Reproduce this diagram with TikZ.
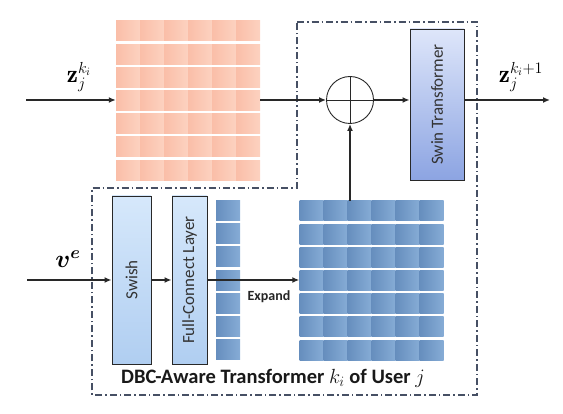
\RequirePackage{fix-cm}
\documentclass[tikz,border=0pt]{standalone}
\usepackage{fontspec}
\usepackage{bm}
\setsansfont{Carlito}
\usetikzlibrary{arrows.meta}

\definecolor{frameline}{RGB}{70,80,100}
\definecolor{arrowline}{RGB}{40,40,40}
\definecolor{zcellL}{RGB}{250,190,168}
\definecolor{zcellR}{RGB}{252,210,192}
\definecolor{vcellL}{RGB}{102,142,190}
\definecolor{vcellR}{RGB}{134,172,214}
\definecolor{layertop}{RGB}{214,232,251}
\definecolor{layerbot}{RGB}{176,206,241}
\definecolor{swintop}{RGB}{222,230,250}
\definecolor{swinbot}{RGB}{140,164,226}

% bigger indices for the input/output labels
\newcommand{\idx}[1]{\mbox{\fontsize{16}{16}\selectfont$#1$}}

\tikzset{
  layerbox/.style={draw=arrowline, line width=0.9pt, minimum width=#1, inner sep=0pt},
  layertext/.style={font=\sffamily\fontsize{17}{17}\selectfont, text=black!80, rotate=90},
  flow/.style={-{Latex[length=7pt,width=6pt]}, line width=1.5pt, draw=arrowline},
  grid/.style={minimum width=144pt, minimum height=159pt, inner sep=0pt},
  mathlabel/.style={font=\fontsize{25}{25}\selectfont, inner sep=0pt}
}

\begin{document}
\begin{tikzpicture}[x=1pt, y=-1pt]
    \useasboundingbox (0,0) rectangle (563,414);

    % DBC-aware transformer frame
    \draw[frameline, line width=1.1pt, dash pattern=on 7pt off 3pt on 1.5pt off 3pt]
        (297,22) -- (477,22) -- (477,395) -- (92,395) -- (92,188) -- (297,188) -- cycle;

    % feature grids
    \node[grid] (zgrid) at (188,100.5) {};
    \node[grid] (vgrid) at (371.5,280.5) {};
    \node[minimum width=24pt, minimum height=159pt, inner sep=0pt] (fcol) at (228,280) {};
    \foreach \r in {0,...,6} {
      \foreach \c in {0,...,5} {
        \shade[left color=zcellL, right color=zcellR] (116+\c*24, 21+\r*23.2) rectangle ++(24,20);
        \shade[left color=vcellL, right color=vcellR] (299.5+\c*24, 201+\r*23.2) rectangle ++(24,20);
      }
      \shade[left color=vcellL, right color=vcellR] (216, 200.5+\r*23.2) rectangle ++(24,20);
    }

    % blocks
    \node[layerbox=39pt, minimum height=168pt, top color=layertop, bottom color=layerbot] (swish) at (131.5,280) {};
    \node[layertext] at (swish) {Swish};
    \node[layerbox=35pt, minimum height=168pt, top color=layertop, bottom color=layerbot] (fc) at (189.5,280) {};
    \node[layertext] at (fc) {Full-Connect Layer};
    \node[layerbox=54pt, minimum height=151pt, top color=swintop, bottom color=swinbot] (swin) at (437,104.5) {};
    \node[layertext] at (swin) {Swin Transformer};
    \node[draw=arrowline, line width=0.9pt, circle, minimum size=47pt, inner sep=0pt] (sum) at (350,100) {};
    \draw[arrowline, line width=0.9pt] (sum.north) -- (sum.south) (sum.west) -- (sum.east);

    % inputs and outputs
    \coordinate (zin) at (26,100);
    \coordinate (vin) at (27,280);
    \coordinate (zout) at (550,100);
    \node[mathlabel] (zlabel) at (79,77) {$\mathbf{z}_{\idx{j}}^{\idx{k_i}}$};
    \node[mathlabel] (vlabel) at (68,259) {$\bm{v^{e}}$};
    \node[mathlabel] (zoutlabel) at (521,77) {$\mathbf{z}_{\idx{j}}^{\idx{k_i{+}1}}$};

    \draw[flow] (zin) -- (zgrid.west |- zin);
    \draw[flow] (zgrid.east |- sum) -- (sum.west);
    \draw[flow] (sum.east) -- (swin.west |- sum);
    \draw[flow] (swin.east |- sum) -- (zout);
    \draw[flow] (vin) -- (swish.west |- vin);
    \draw[flow] (swish.east |- vin) -- (fc.west |- vin);
    \draw[flow] (fc.east |- vin) -- (vgrid.west |- vin);
    \draw[flow] (sum.south |- vgrid.north) -- (sum.south);

    \node[font=\sffamily\bfseries\fontsize{14}{14}\selectfont, text=black!85] (expand) at (269,297) {Expand};
    \node[font=\sffamily\bfseries\fontsize{20.5}{20.5}\selectfont, text=black!90] (title) at (273,378)
        {DBC-Aware Transformer $k_i$ of User $j$};
\end{tikzpicture}
\end{document}
